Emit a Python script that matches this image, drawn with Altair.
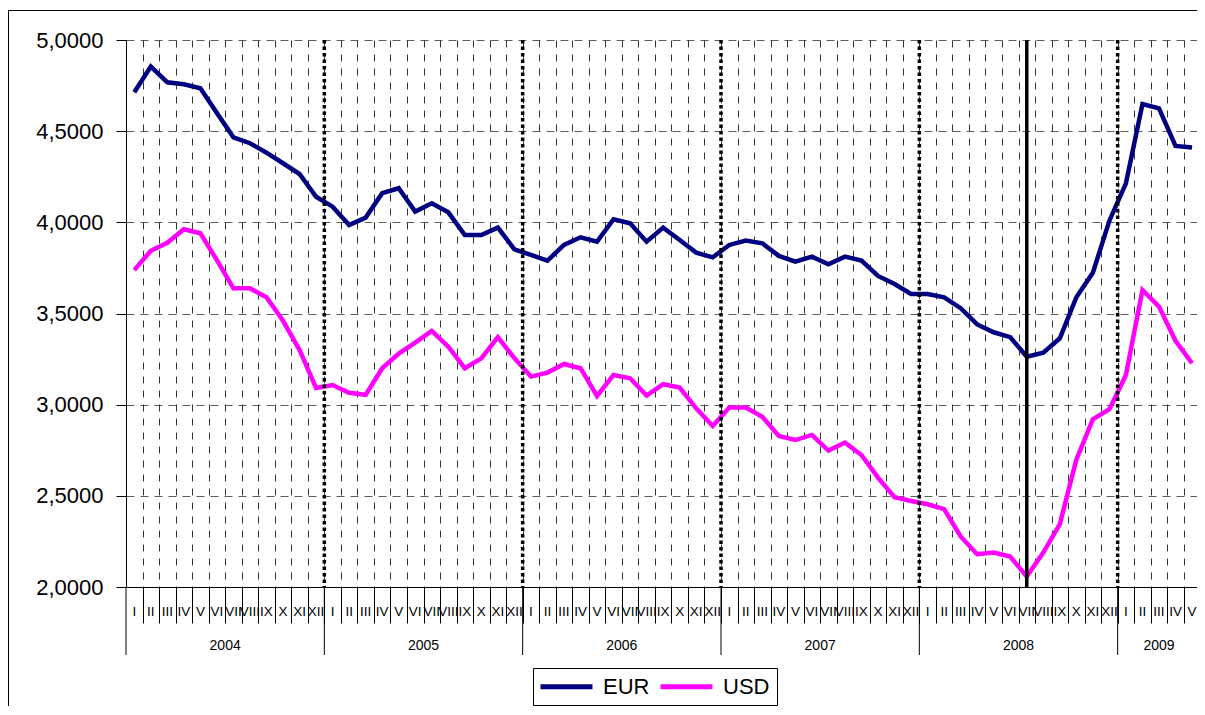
import altair as alt
import pandas as pd

FONT = "Liberation Sans"

years = [2004, 2005, 2006, 2007, 2008, 2009]
roman = ["I", "II", "III", "IV", "V", "VI", "VII", "VIII", "IX", "X", "XI", "XII"]

eur = [
    4.713, 4.854, 4.768, 4.757, 4.735, 4.600, 4.466, 4.434, 4.382, 4.324, 4.265, 4.140,
    4.086, 3.985, 4.026, 4.160, 4.187, 4.059, 4.105, 4.055, 3.930, 3.930, 3.971, 3.852,
    3.821, 3.790, 3.876, 3.918, 3.894, 4.017, 3.995, 3.894, 3.971, 3.903, 3.834, 3.808,
    3.876, 3.900, 3.885, 3.816, 3.784, 3.812, 3.770, 3.812, 3.790, 3.706, 3.662, 3.607,
    3.607, 3.589, 3.529, 3.440, 3.397, 3.370, 3.263, 3.285, 3.364, 3.589, 3.724, 4.009,
    4.214, 4.649, 4.625, 4.419, 4.410,
]
usd = [
    3.738, 3.844, 3.888, 3.962, 3.940, 3.793, 3.638, 3.638, 3.589, 3.460, 3.300, 3.092,
    3.108, 3.065, 3.054, 3.200, 3.280, 3.340, 3.405, 3.318, 3.200, 3.254, 3.370, 3.255,
    3.154, 3.176, 3.223, 3.200, 3.048, 3.163, 3.145, 3.050, 3.112, 3.094, 2.980, 2.883,
    2.984, 2.984, 2.934, 2.828, 2.806, 2.834, 2.748, 2.792, 2.724, 2.600, 2.492, 2.472,
    2.454, 2.427, 2.277, 2.180, 2.189, 2.167, 2.057, 2.189, 2.345, 2.698, 2.920, 2.975,
    3.163, 3.629, 3.538, 3.350, 3.227,
]
series_names = ["EUR", "USD"]
series_colors = ["#000080", "#FF00FF"]
y_ticks = [2.0, 2.5, 3.0, 3.5, 4.0, 4.5, 5.0]
event_month = "2008-VII"  # solid marker line

W, H = 1071, 547
XMAX = 64.8
PAD = {"left": 118, "top": 32, "right": 0, "bottom": 119}

n = len(eur)
months = pd.DataFrame({
    "t": [i + 0.5 for i in range(n)],
    "label": [roman[i % 12] for i in range(n)],
    "year": [years[i // 12] for i in range(n)],
    "EUR": eur,
    "USD": usd,
})
months["key"] = months["year"].astype(str) + "-" + months["label"]

long_df = months.melt(id_vars=["t"], value_vars=series_names, var_name="series", value_name="value")

year_starts = pd.DataFrame({"t": [12 * k for k in range(len(years))]})
year_inner = year_starts[year_starts["t"] > 0]
year_mid = months.groupby("year", as_index=False)["t"].mean()
event_df = months[months["key"] == event_month][["t"]]
one = pd.DataFrame({"a": [0]})

xs = alt.Scale(domain=[0, XMAX], nice=False, zero=False)
ys = alt.Scale(domain=[2, 5], nice=False, zero=False)
xaxis = alt.Axis(
    values=list(range(1, n)), labels=False, title=None,
    tickSize=36, tickColor="black", tickWidth=1,
    domainColor="black", domainWidth=1,
    grid=True, gridDash=[7, 7], gridColor="black", gridWidth=0.8,
)


def xenc():
    return alt.X("t:Q", scale=xs, axis=xaxis)


lines = alt.Chart(long_df).mark_line(strokeWidth=4.5, clip=True).encode(
    x=xenc(),
    y=alt.Y("value:Q", scale=ys, axis=alt.Axis(
        values=y_ticks, title=None,
        labelExpr="replace(format(datum.value, '.4f'), '.', ',')",
        labelFontSize=22, labelFont=FONT, labelColor="black", labelPadding=13,
        tickSize=10, tickColor="black", domainColor="black",
        grid=True, gridDash=[8, 6], gridColor="#333333", gridWidth=0.8,
    )),
    color=alt.Color("series:N",
        scale=alt.Scale(domain=series_names, range=series_colors),
        legend=alt.Legend(
            title=None, orient="none", legendX=407, legendY=628,
            direction="horizontal", symbolType="M-1.27,0H4.73", symbolSize=300,
            symbolStrokeWidth=5, labelFontSize=22, labelFont=FONT,
            labelColor="black", labelOffset=40, columnPadding=0, padding=7,
            strokeColor="black", fillColor="white",
        )),
)

year_sep = alt.Chart(year_starts).mark_rule(color="black", strokeWidth=1).encode(
    x=xenc(), y=alt.value(H), y2=alt.value(H + 68))

year_dotted = alt.Chart(year_inner).mark_rule(color="black", strokeWidth=3.5, strokeDash=[3.5, 3]).encode(
    x=xenc(), y=alt.value(0), y2=alt.value(H))

event_rule = alt.Chart(event_df).mark_rule(color="black", strokeWidth=3.5).encode(
    x=xenc(), y=alt.value(0), y2=alt.value(H))

month_text = alt.Chart(months).mark_text(fontSize=13.5, font=FONT, color="black", baseline="middle").encode(
    x=xenc(), y=alt.value(H + 25), text="label:N")

year_text = alt.Chart(year_mid).mark_text(fontSize=14, font=FONT, color="black", baseline="middle").encode(
    x=xenc(), y=alt.value(H + 59), text="year:N")

border_left = alt.Chart(one).mark_rule(color="black", strokeWidth=1).encode(
    x=alt.value(-117.5), y=alt.value(-30), y2=alt.value(H + 140))
border_top = alt.Chart(one).mark_rule(color="black", strokeWidth=1).encode(
    x=alt.value(-117.5), x2=alt.value(W + 10), y=alt.value(-29.5))

chart = alt.layer(
    lines, year_dotted, event_rule, year_sep, month_text, year_text, border_left, border_top
).properties(
    width=W, height=H, padding=PAD,
    autosize=alt.AutoSizeParams(type="none"),
).configure(font=FONT).configure_view(stroke=None)

chart.save("out.html", embed_options={"renderer": "svg", "actions": False})
